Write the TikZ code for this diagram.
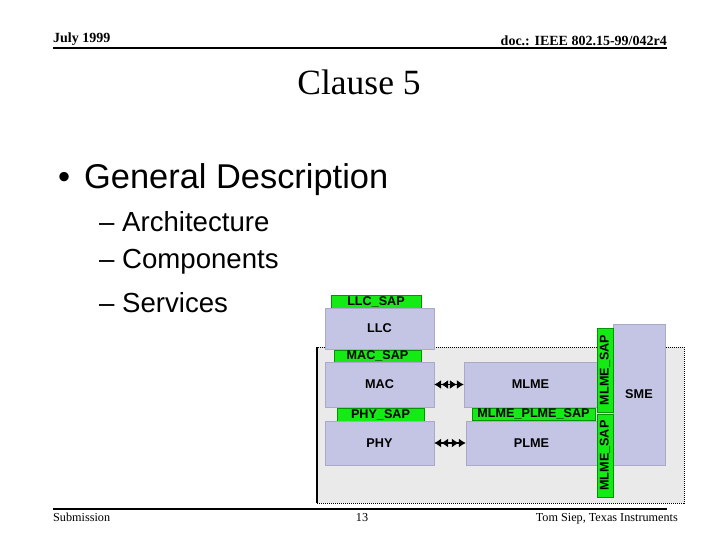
\documentclass[tikz,border=0pt]{standalone}
\usepackage{fontspec}
\setmainfont{Liberation Serif}
\setsansfont{Liberation Sans}
\usetikzlibrary{arrows.meta, positioning}

\definecolor{layerblue}{RGB}{196,196,228}
\definecolor{layeredge}{RGB}{170,170,200}
\definecolor{sapgreen}{RGB}{20,235,20}
\definecolor{sapedge}{RGB}{0,150,0}
\definecolor{mgmtgray}{RGB}{234,234,234}

\begin{document}
\begin{tikzpicture}[
    x=1pt, y=-1pt,
    every node/.style={inner sep=0pt},
    layer/.style={rectangle, draw=layeredge, fill=layerblue, font=\sffamily\bfseries\fontsize{12.7}{14}\selectfont},
    sap/.style={rectangle, draw=sapedge, fill=sapgreen, font=\sffamily\bfseries\fontsize{12.6}{14}\selectfont},
    vsap/.style={sap, rotate=90},
    bullet1/.style={anchor=west, font=\sffamily\fontsize{34.4}{38}\selectfont},
    bullet2/.style={anchor=west, font=\sffamily\fontsize{27.6}{32}\selectfont},
    link/.style={{Latex[length=7pt,width=9pt]Latex[length=7pt,width=9pt]}-{Latex[length=7pt,width=9pt]Latex[length=7pt,width=9pt]}, line width=1.2pt}
]
\useasboundingbox (0,0) rectangle (720,540);

% Header and footer
\node[anchor=base west, font=\bfseries\fontsize{14}{16}\selectfont] (date) at (53,43) {July 1999};
\node[anchor=base east, font=\bfseries\fontsize{14}{16}\selectfont] (doc) at (667,46) {doc.: IEEE 802.15-99/042r4};
\draw[line width=1.5pt] (53,48) -- (667,48);
\draw[line width=1.5pt] (53,509) -- (667,509);
\node[anchor=base west, font=\fontsize{12.2}{14}\selectfont] (sub) at (53,521) {Submission};
\node[anchor=base, font=\fontsize{12.2}{14}\selectfont] (page) at (362,521) {13};
\node[anchor=base east, font=\fontsize{12.2}{14}\selectfont] (author) at (678,521) {Tom Siep, Texas Instruments};

% Title and bullets
\node[font=\fontsize{35.5}{40}\selectfont] (title) at (359,82) {Clause 5};
\node[bullet1] (gen) at (58,180) {\textbullet\hspace{14pt}General Description};
\node[bullet2] (arch) at (99,222) {-- Architecture};
\node[bullet2] (comp) at (99,262) {-- Components};
\node[bullet2] (serv) at (99,303) {-- Services};

% Management plane frame
\fill[mgmtgray] (317,347) rectangle (684,503);
\draw[densely dotted, line width=1pt] (317,347) rectangle (684,503);
\draw[line width=1.5pt] (317,347) -- (317,503);

% Data plane layers
\node[sap, minimum width=90, minimum height=13] (llcsap) at (376,301.5) {LLC\_SAP};
\node[layer, minimum width=109, minimum height=41] (llc) at (379.5,328.5) {LLC};
\node[sap, minimum width=87, minimum height=12] (macsap) at (377.5,356) {MAC\_SAP};
\node[layer, minimum width=109, minimum height=45] (mac) at (379.5,384.5) {MAC};
\node[sap, minimum width=87, minimum height=13] (physap) at (380.5,414.5) {PHY\_SAP};
\node[layer, minimum width=109, minimum height=44] (phy) at (379.5,443) {PHY};

% Management entities
\node[layer, minimum width=133, minimum height=45] (mlme) at (530.5,384.5) {MLME};
\node[sap, minimum width=123, minimum height=12] (mlmeplmesap) at (533.5,414) {MLME\_PLME\_SAP};
\node[layer, minimum width=131, minimum height=44] (plme) at (531.5,443) {PLME};
\node[layer, minimum width=52, minimum height=141] (sme) at (639,394.5) {SME};
\node[vsap, minimum width=84, minimum height=16] (mlmesapa) at (605,370) {MLME\_SAP};
\node[vsap, minimum width=83, minimum height=16] (mlmesapb) at (605,455.5) {MLME\_SAP};

% Links between layers and management
\draw[link] (mac.east) -- (mlme.west);
\draw[link] (phy.east) -- (plme.west);

\end{tikzpicture}
\end{document}
